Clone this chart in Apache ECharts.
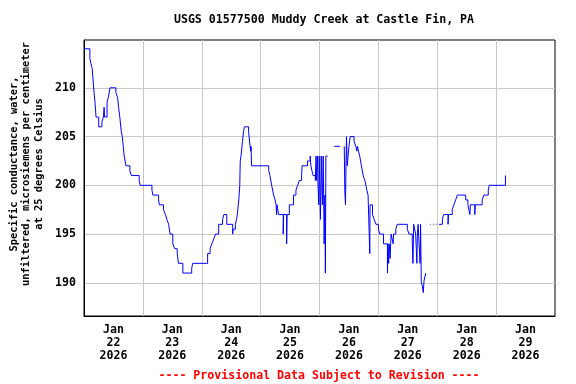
<!DOCTYPE html>
<html>
<head>
<meta charset="utf-8">
<script src="https://cdn.jsdelivr.net/npm/echarts@6/dist/echarts.min.js"></script>
<style>html,body{margin:0;padding:0;background:#fff}#c{width:576px;height:384px}</style>
</head>
<body>
<div id="c"></div>
<script>
// Title and text
const titleText = 'USGS 01577500 Muddy Creek at Castle Fin, PA';
const yAxisTitle = ['Specific conductance, water,', 'unfiltered, microsiemens per centimeter', 'at 25 degrees Celsius'];
const footerText = '---- Provisional Data Subject to Revision ----';

// X axis: hours since Jan 22 2026 00:00
const monthLabel = 'Jan';
const dayLabels = ['22', '23', '24', '25', '26', '27', '28', '29'];
const yearLabel = '2026';
const xLabelHours = [12, 36, 60, 84, 108, 132, 156, 180];
const xGridHours = [24, 48, 72, 96, 120, 144, 168];
const yTickValues = [190, 195, 200, 205, 210];

// Series (hour, value); null value = gap in record
const hours = [
  0, 2.4, 2.8, 3.3, 3.8, 4.1, 4.5, 4.9, 6.0, 7.3, 7.9, 8.2, 8.4, 9.4, 9.9, 10.6,
  13.0, 13.7, 14.1, 14.6, 15.2, 15.6, 16.0, 16.4, 17.1, 18.7, 19.3, 22.5, 22.9,
  27.7, 28.1, 30.4, 30.7, 32.4, 33.2, 33.8, 34.5, 35.1, 36.2, 37.0, 38.0, 38.5,
  40.3, 43.9, 44.3, 50.4, 51.4, 52.1, 52.9, 53.6, 54.9, 56.5, 57.0, 58.2, 60.6,
  60.8, 61.7, 62.2, 62.5, 63.1, 63.5, 63.7, 64.0, 64.6, 65.0, 65.4, 67.1, 67.7,
  68.0, 68.1, 68.3, 75.3, 75.8, 76.5, 77.3, 77.9, 78.3, 78.5, 78.7, 79.3, 81.2,
  81.4, 82.6, 82.8, 83.7, 85.4, 86.4, 87.1, 87.8, 88.7, 88.9, 91.1, 92.2, 92.5,
  92.9, 93.4, 94.3, 94.6, 94.8, 95.2, 95.4, 95.7, 95.9, 96.2, 96.4, 96.7, 97.0,
  97.2, 97.5, 97.7, 97.9, 98.2, 98.4, 98.6, 99.3, 99.4,
  102.0, 104.3, 104.4,
  106.1, 106.3, 106.6, 106.8, 107.0, 107.3, 108.0, 108.5, 110.1, 110.8, 111.2,
  111.5, 111.9, 112.4, 113.1, 113.8, 114.5, 114.9, 115.3, 115.8, 116.2, 116.5,
  116.6, 116.9, 117.6, 118.3, 119.0, 120.0, 120.6, 122.1, 123.7, 123.9, 124.2,
  124.4, 124.8, 125.0, 125.2, 126.0, 126.2, 127.1, 127.7, 131.8, 132.5, 133.8,
  134.1, 134.4, 135.2, 135.7, 135.9, 136.2, 137.0, 137.2, 137.5, 137.9, 138.3,
  138.6, 139.3, 139.4,
  141.0, 141.3, 141.4,
  142.3, 142.6, 142.7,
  143.4, 143.7, 143.8,
  144.7, 146.1, 146.6, 148.4, 148.6, 150.1, 150.8, 151.5, 152.2, 155.6, 156.5,
  157.3, 157.5, 159.3, 159.5, 162.3, 163.0, 164.8, 165.2, 171.8, 171.9
];
const values = [
  214, 213, 212.5, 212, 210.5, 209.5, 208.5, 207, 206, 206.5, 207, 208, 207, 208.5, 209, 210,
  209.5, 209, 208, 207, 205.5, 205, 204, 203, 202, 201.5, 201, 200.5, 200,
  199.5, 199, 198.5, 198, 197.5, 197, 196.5, 196, 195, 194, 193.5, 193, 192,
  191, 191.5, 192, 193, 193.5, 194, 194.5, 195, 196, 196.5, 197, 196, 195,
  195.5, 196, 196.5, 197, 198.5, 200, 202.5, 203, 204.5, 205.5, 206, 205.5, 204,
  203.5, 204, 202, 201.5, 201, 200, 199, 198.5, 198, 197, 198, 197, 195,
  197, 194, 197, 198, 199, 199.5, 200, 200.5, 201, 202, 202.5, 203, 202,
  201.5, 201, 200.5, 203, 200.5, 203, 200, 198, 203, 199, 196.5, 203, 199.5,
  198, 203, 199, 194, 199, 191, 203, 203, null,
  204, 204, null,
  204, 199.5, 198, 202, 205, 202, 204, 205, 204.5, 204, 203.5,
  204, 203.5, 203, 202, 201, 200.5, 200, 199.5, 199, 199, 193,
  198, 198, 197, 196.5, 196, 195.5, 195, 194, 191, 194, 192,
  194, 192.5, 194, 195, 194, 195, 195.5, 196, 195.5, 195, 194.5,
  192, 196, 195, 192, 195, 196, 192, 196, 190, 189.7, 189,
  190.2, 191, null,
  196, 196, null,
  196, 196, null,
  196, 196, null,
  196, 196.5, 197, 196, 197, 197.5, 198, 198.5, 199, 198.5, 198,
  197, 198, 197, 198, 198.5, 199, 199.5, 200, 201, 201
];

const seriesData = hours.map((h, i) => [h, values[i] === null ? '-' : values[i]]);

const chart = echarts.init(document.getElementById('c'), null, {renderer: 'canvas'});
const monoFont = '"DejaVu Sans Mono", "Liberation Mono", monospace';

chart.setOption({
  animation: false,
  backgroundColor: '#ffffff',
  title: {
    text: titleText,
    left: 319, top: 9, textAlign: 'center',
    textStyle: {fontFamily: monoFont, fontSize: 11.6, fontWeight: 'bold', color: '#000'}
  },
  grid: {left: 84, right: 21, top: 40, bottom: 68, show: true, borderColor: '#000', borderWidth: 1, backgroundColor: 'transparent'},
  xAxis: {
    type: 'value', min: 0, max: 192,
    axisLine: {show: true, lineStyle: {color: '#000', width: 1}},
    axisTick: {show: false, customValues: xGridHours},
    splitLine: {show: true, lineStyle: {color: '#c8c8c8', width: 1}},
    axisLabel: {
      customValues: xLabelHours,
      margin: 7,
      lineHeight: 13,
      fontFamily: monoFont, fontSize: 11.6, fontWeight: 'bold', color: '#000',
      formatter: function (v) {
        const idx = Math.round((v - 12) / 24);
        return monthLabel + '\n' + dayLabels[idx] + '\n' + yearLabel;
      }
    }
  },
  yAxis: {
    type: 'value', min: 186.6, max: 214.9,
    axisLine: {show: true, lineStyle: {color: '#000', width: 1}},
    axisTick: {show: false, customValues: yTickValues},
    splitLine: {show: true, lineStyle: {color: '#c8c8c8', width: 1}},
    axisLabel: {
      customValues: yTickValues,
      margin: 8,
      fontFamily: monoFont, fontSize: 11.6, fontWeight: 'bold', color: '#000'
    }
  },
  graphic: [
    {
      type: 'text', x: 26.5, y: 164, rotation: Math.PI / 2,
      style: {
        text: yAxisTitle.join('\n'), align: 'center', verticalAlign: 'middle',
        lineHeight: 12.5,
        font: 'bold 10.4px "DejaVu Sans Mono", monospace', fill: '#000'
      }
    },
    {
      type: 'text', x: 319, y: 375.5,
      style: {
        text: footerText, align: 'center', verticalAlign: 'middle',
        font: 'bold 11.6px "DejaVu Sans Mono", monospace', fill: '#ff0000'
      }
    }
  ],
  series: [{
    type: 'line',
    data: seriesData,
    step: 'end',
    showSymbol: false,
    connectNulls: false,
    lineStyle: {color: '#0000ff', width: 1},
    clip: true
  }]
});
</script>
</body>
</html>
